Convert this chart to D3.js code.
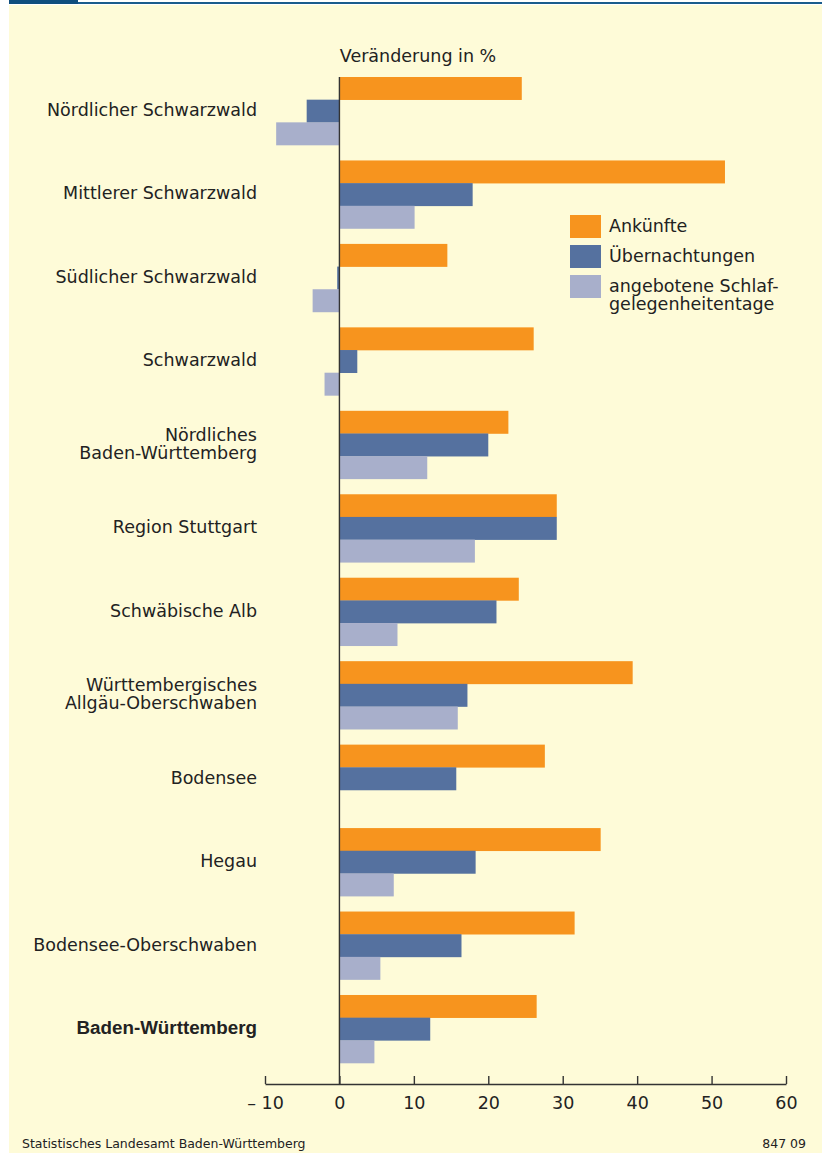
<!DOCTYPE html>
<html><head><meta charset="utf-8">
<script src="https://cdn.jsdelivr.net/npm/d3@7"></script>
<style>
html,body{margin:0;padding:0;background:#fff;}
svg{display:block;font-family:"DejaVu Sans","Liberation Sans",Arial,sans-serif;}
</style></head>
<body>
<svg id="chart" width="822" height="1153"></svg>
<script>
const categories = [
  ["Nördlicher Schwarzwald"],
  ["Mittlerer Schwarzwald"],
  ["Südlicher Schwarzwald"],
  ["Schwarzwald"],
  ["Nördliches", "Baden-Württemberg"],
  ["Region Stuttgart"],
  ["Schwäbische Alb"],
  ["Württembergisches", "Allgäu-Oberschwaben"],
  ["Bodensee"],
  ["Hegau"],
  ["Bodensee-Oberschwaben"],
  ["Baden-Württemberg"]
];
const seriesNames = ["Ankünfte", "Übernachtungen", "angebotene Schlaf-|gelegenheitentage"];
const ankuenfte = [24.5, 51.8, 14.5, 26.1, 22.7, 29.2, 24.1, 39.4, 27.6, 35.1, 31.6, 26.5];
const uebernachtungen = [-4.4, 17.9, -0.3, 2.4, 20.0, 29.2, 21.1, 17.2, 15.7, 18.3, 16.4, 12.2];
const schlafgelegenheiten = [-8.5, 10.1, -3.6, -2.0, 11.8, 18.2, 7.8, 15.9, null, 7.3, 5.5, 4.7];
const tickValues = [-10, 0, 10, 20, 30, 40, 50, 60];
const colors = ["#F7941E", "#55719F", "#A8AFCB"];

const FS = 17.5;
const svg = d3.select("#chart");
svg.append("rect").attr("x", 9).attr("y", 5).attr("width", 813).attr("height", 1148).attr("fill", "#FEFBD8");
svg.append("rect").attr("x", 9).attr("y", 0).attr("width", 69).attr("height", 4).attr("fill", "#0F4E7E");
svg.append("rect").attr("x", 78).attr("y", 2).attr("width", 744).attr("height", 2).attr("fill", "#1A5C8C");

const keys = categories.map((c, i) => i);
const y = d3.scaleBand().domain(keys).range([77, 1063]).paddingInner(0.185).paddingOuter(0);
const ySub = d3.scaleBand().domain([0, 1, 2]).range([0, y.bandwidth()]);
const x = d3.scaleLinear().domain([-10, 60]).range([265, 786]);

const seriesData = [ankuenfte, uebernachtungen, schlafgelegenheiten];

const g = svg.append("g");
keys.forEach(i => {
  seriesData.forEach((arr, s) => {
    const v = arr[i];
    if (v === null || v === undefined) return;
    g.append("rect")
      .attr("x", x(Math.min(0, v)))
      .attr("y", y(i) + ySub(s))
      .attr("width", Math.abs(x(v) - x(0)))
      .attr("height", ySub.bandwidth() + 0.3)
      .attr("fill", colors[s]);
  });
});

svg.append("line").attr("x1", x(0)).attr("x2", x(0)).attr("y1", 77).attr("y2", 1084)
  .attr("stroke", "#333").attr("stroke-width", 1.4);

const axis = d3.axisBottom(x).tickValues(tickValues).tickSize(0)
  .tickFormat(d => d < 0 ? "\u2013 " + Math.abs(d) : String(d));
const ax = svg.append("g").attr("transform", "translate(0,1084)").call(axis);
ax.attr("font-family", null).attr("font-size", null);
ax.select(".domain").attr("stroke", "#333").attr("stroke-width", 1.4);
ax.selectAll(".tick text").attr("font-size", FS).attr("fill", "#222").attr("dy", 0).attr("y", 25);
ax.selectAll(".tick").append("line").attr("y1", 0).attr("y2", -8).attr("stroke", "#333").attr("stroke-width", 1.4);

keys.forEach(i => {
  const lines = categories[i];
  const cy = y(i) + y.bandwidth() / 2;
  const isTotal = i === keys.length - 1;
  const t = svg.append("text").attr("x", 257).attr("text-anchor", "end")
    .attr("font-size", isTotal ? 18.8 : FS).attr("fill", "#222")
    .attr("font-family", isTotal ? "'Liberation Sans',Arial,sans-serif" : null)
    .attr("font-weight", isTotal ? "bold" : "normal");
  const lh = 18;
  const startY = cy + 5 - (lines.length - 1) * lh / 2;
  lines.forEach((ln, k) => t.append("tspan").attr("x", 257).attr("y", startY + k * lh).text(ln));
});

svg.append("text").attr("x", 418).attr("y", 62).attr("text-anchor", "middle")
  .attr("font-size", FS).attr("fill", "#222").text("Veränderung in %");

const legY = [215, 245, 275];
seriesNames.forEach((n, s) => {
  svg.append("rect").attr("x", 570).attr("y", legY[s]).attr("width", 31).attr("height", 23).attr("fill", colors[s]);
  const parts = n.split("|");
  const t = svg.append("text").attr("font-size", FS).attr("fill", "#222");
  parts.forEach((p, k) => t.append("tspan").attr("x", 609).attr("y", legY[s] + 17 + k * 18).text(p));
});

svg.append("text").attr("x", 22).attr("y", 1148).attr("font-size", 12.5).attr("fill", "#222")
  .text("Statistisches Landesamt Baden-Württemberg");
svg.append("text").attr("x", 806).attr("y", 1148).attr("text-anchor", "end").attr("font-size", 12.5).attr("fill", "#222")
  .text("847 09");
</script>
</body></html>
